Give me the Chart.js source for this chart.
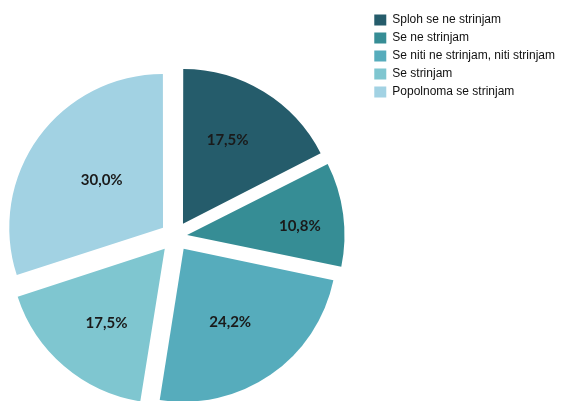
<!DOCTYPE html>
<html>
<head>
<meta charset="utf-8">
<script src="https://cdn.jsdelivr.net/npm/chart.js@4/dist/chart.umd.min.js"></script>
<style>
  html, body { margin: 0; padding: 0; background: #fff; overflow: hidden; width: 566px; height: 401px; }
  #wrap { position: absolute; left: -18px; top: 0; width: 584px; height: 465px; }
</style>
</head>
<body>
<div id="wrap"><canvas id="pie" width="584" height="465"></canvas></div>
<script>
// Answers to the survey statement (share of respondents, %)
const categories = [
  'Sploh se ne strinjam',
  'Se ne strinjam',
  'Se niti ne strinjam, niti strinjam',
  'Se strinjam',
  'Popolnoma se strinjam'
];
const shares = [17.5, 10.8, 24.2, 17.5, 30.0];
const shareLabels = ['17,5%', '10,8%', '24,2%', '17,5%', '30,0%'];

const sliceColors = ['#255C6B', '#368D95', '#56ACBC', '#7FC6D0', '#A2D2E3'];

// Writes the percentage inside each (exploded) slice
const sliceLabels = {
  id: 'sliceLabels',
  afterDatasetsDraw(chart, args, opts) {
    const ctx = chart.ctx;
    const meta = chart.getDatasetMeta(0);
    ctx.save();
    ctx.font = opts.font;
    ctx.fillStyle = opts.color;
    ctx.textAlign = 'center';
    ctx.textBaseline = 'middle';
    meta.data.forEach((arc, i) => {
      const p = arc.getProps(['x', 'y', 'startAngle', 'endAngle', 'outerRadius']);
      const mid = (p.startAngle + p.endAngle) / 2;
      const shift = (arc.options.offset || 0) / 4;
      const cx = p.x + Math.cos(mid) * shift;
      const cy = p.y + Math.sin(mid) * shift;
      const a = mid + opts.turn[i] * Math.PI / 180;
      const r = p.outerRadius * opts.radius[i];
      ctx.fillText(opts.texts[i], cx + Math.cos(a) * r, cy + Math.sin(a) * r);
    });
    ctx.restore();
  }
};

new Chart(document.getElementById('pie'), {
  type: 'pie',
  data: {
    labels: categories,
    datasets: [{
      data: shares,
      backgroundColor: sliceColors,
      borderWidth: 0,
      offset: [60, 48, 60, 64, 60],
      radius: 153
    }]
  },
  options: {
    responsive: false,
    animation: false,
    layout: { padding: { top: 8, right: 1, left: 0, bottom: 0 } },
    plugins: {
      tooltip: { enabled: false },
      legend: {
        position: 'right',
        align: 'start',
        labels: {
          boxWidth: 12,
          boxHeight: 11,
          padding: 6,
          color: '#111',
          font: { family: 'Liberation Sans, Arial, sans-serif', size: 12 }
        }
      },
      sliceLabels: {
        texts: shareLabels,
        radius: [0.62, 0.74, 0.57, 0.62, 0.505],
        turn: [-3.4, 2.9, 2.3, -2.6, 1.5],
        font: 'bold 15px Lato, "Open Sans", sans-serif',
        color: '#1a1a1a'
      }
    }
  },
  plugins: [sliceLabels]
});
</script>
</body>
</html>
